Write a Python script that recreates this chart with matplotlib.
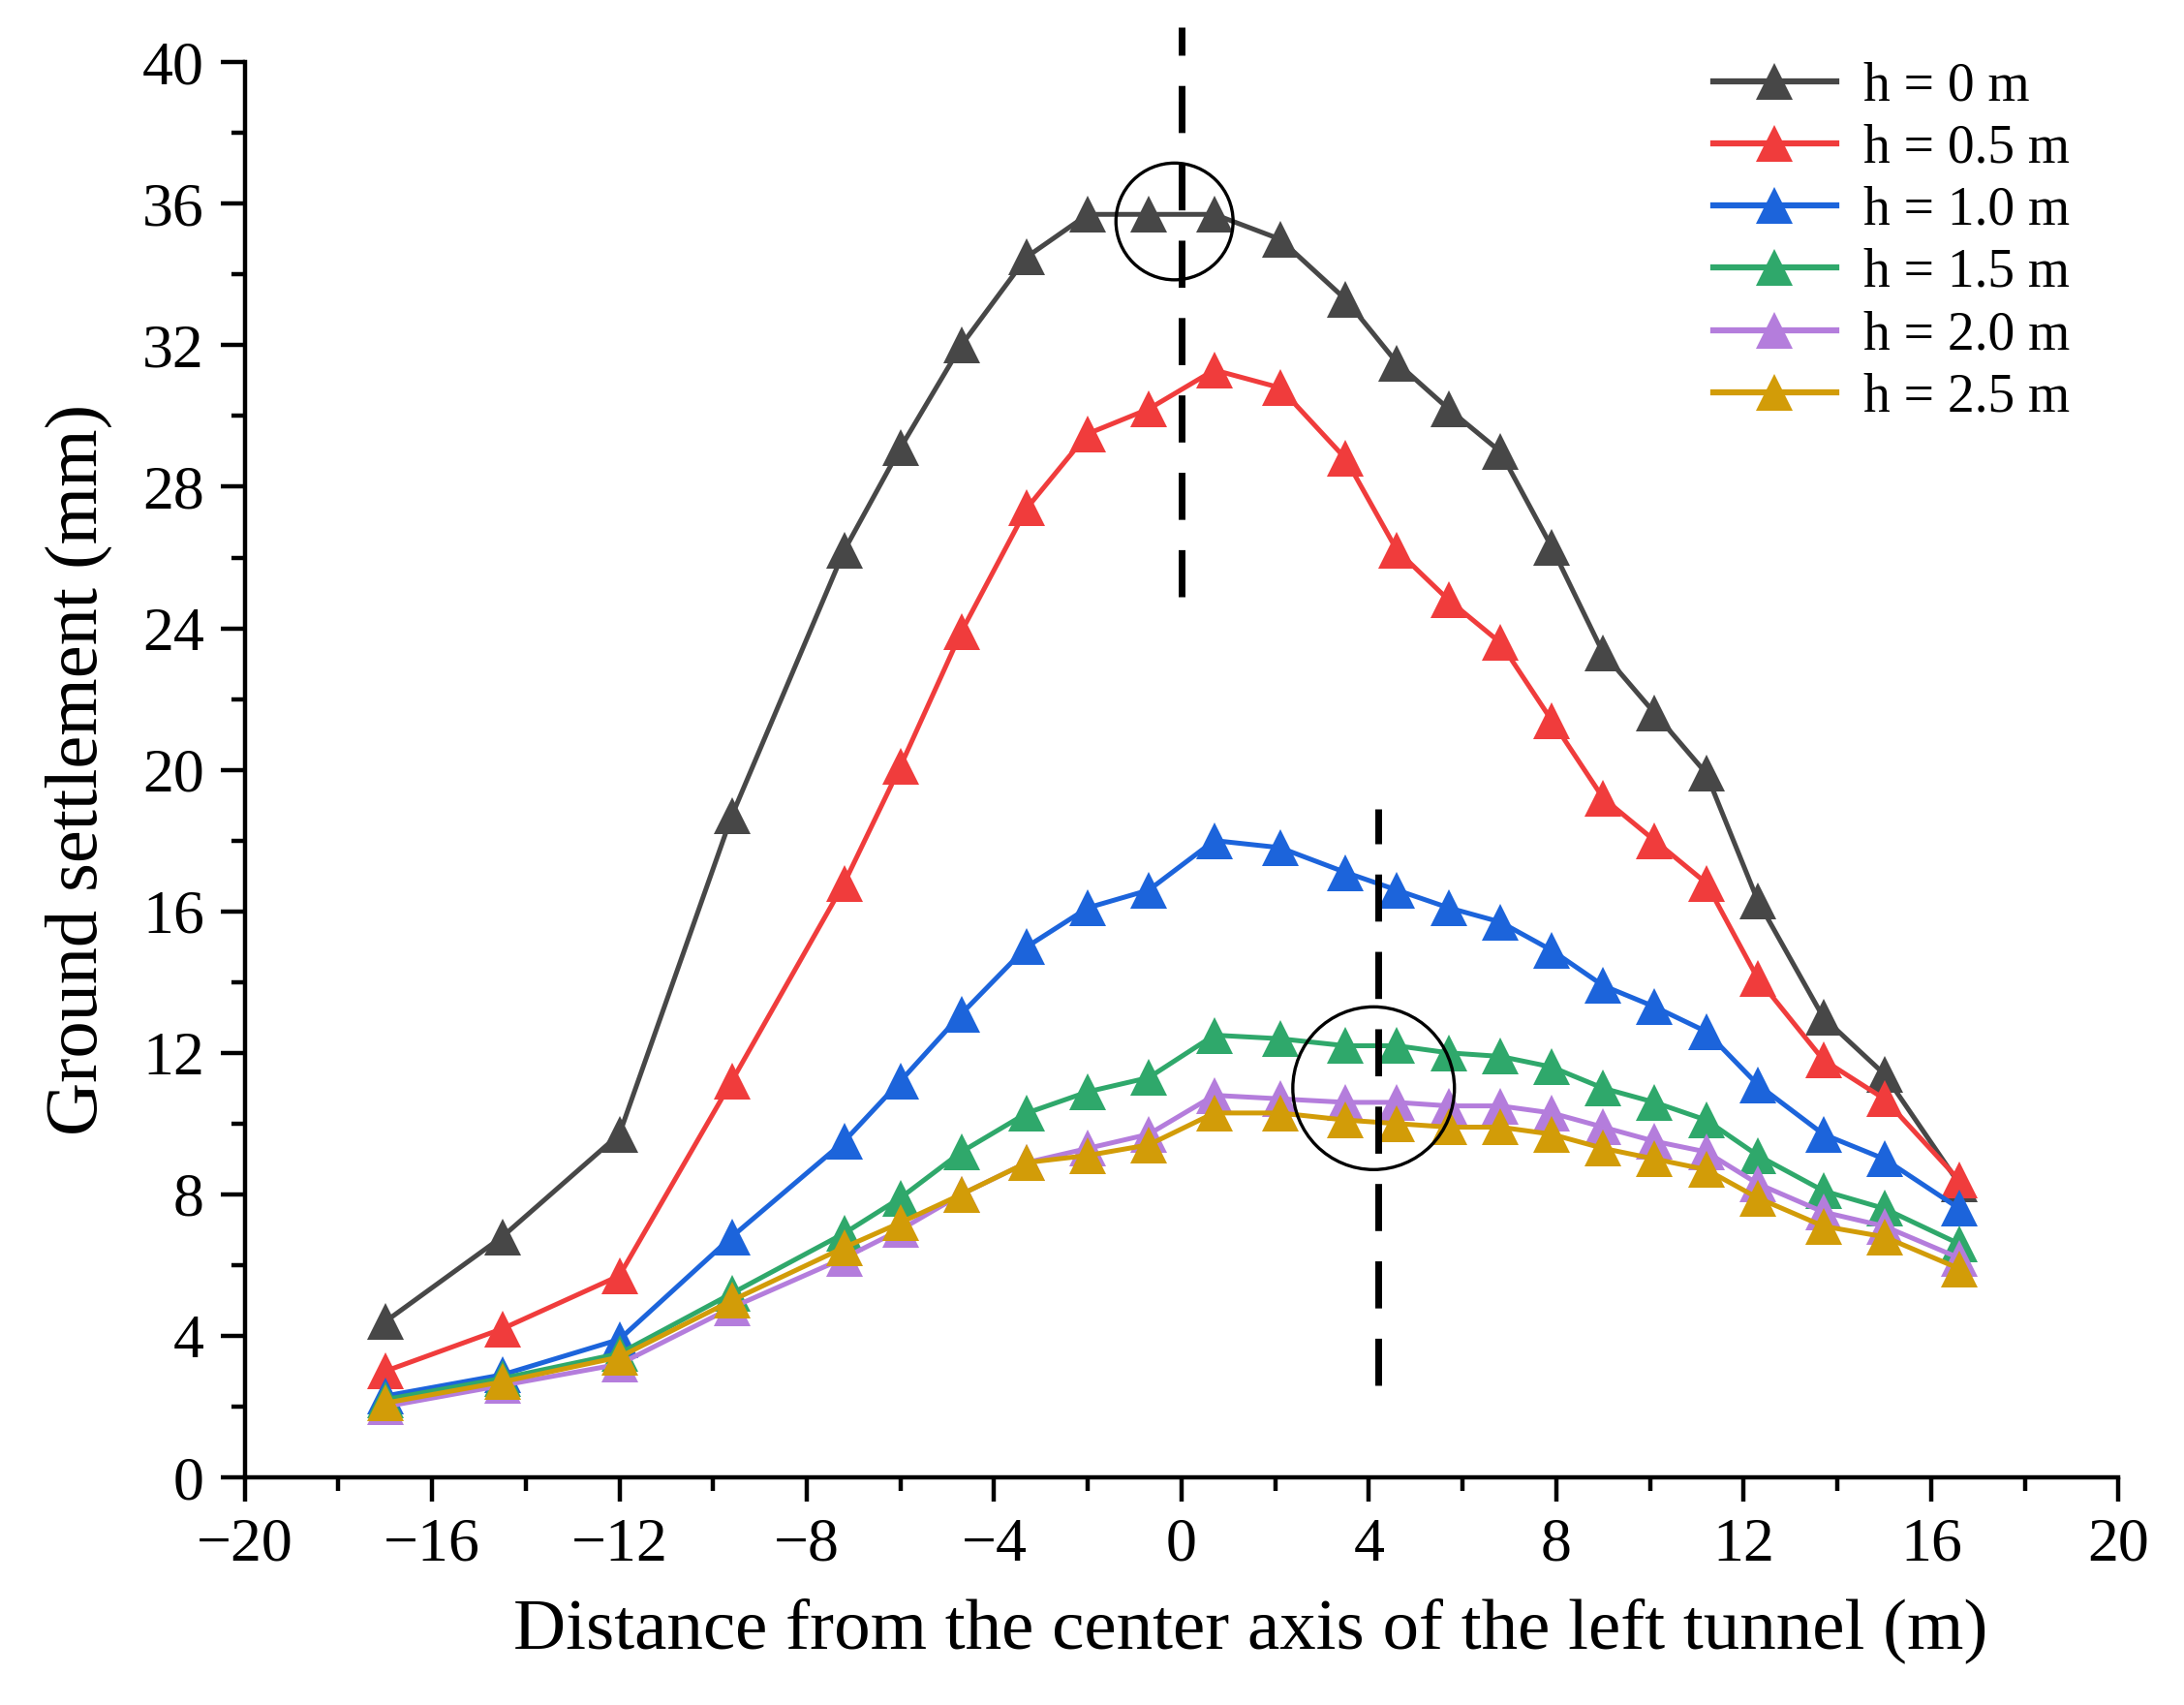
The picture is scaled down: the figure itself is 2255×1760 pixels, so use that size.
"""
Ground settlement vs. distance from the left tunnel axis, for several h.
"""

import matplotlib
matplotlib.use('Agg')
import matplotlib.pyplot as plt
from matplotlib.patches import Ellipse
from matplotlib.ticker import MultipleLocator

plt.rcParams['font.family'] = ['Liberation Serif', 'DejaVu Serif']

# ── Data ──────────────────────────────────────────────────────────────────────
distance = [-17.0, -14.5, -12.0, -9.6, -7.2, -6.0, -4.7, -3.3, -2.0, -0.7, 0.7, 2.1,
            3.5, 4.6, 5.7, 6.8, 7.9, 9.0, 10.1, 11.2, 12.3, 13.7, 15.0, 16.6]

h_0   = [4.4, 6.8, 9.7, 18.7, 26.2, 29.1, 32.0, 34.5, 35.7, 35.7, 35.7, 35.0,
         33.3, 31.5, 30.2, 29.0, 26.3, 23.3, 21.6, 19.9, 16.3, 13.0, 11.4, 8.3]
h_0_5 = [3.0, 4.2, 5.7, 11.2, 16.8, 20.1, 23.9, 27.4, 29.5, 30.2, 31.3, 30.8,
         28.8, 26.2, 24.8, 23.6, 21.4, 19.2, 18.0, 16.8, 14.1, 11.8, 10.7, 8.4]
h_1_0 = [2.3, 2.9, 3.9, 6.8, 9.5, 11.2, 13.1, 15.0, 16.1, 16.6, 18.0, 17.8,
         17.1, 16.6, 16.1, 15.7, 14.9, 13.9, 13.3, 12.6, 11.1, 9.7, 9.0, 7.6]
h_1_5 = [2.2, 2.8, 3.5, 5.2, 6.9, 7.9, 9.2, 10.3, 10.9, 11.3, 12.5, 12.4,
         12.2, 12.2, 12.0, 11.9, 11.6, 11.0, 10.6, 10.1, 9.1, 8.1, 7.6, 6.6]
h_2_0 = [2.0, 2.6, 3.2, 4.8, 6.2, 7.0, 8.0, 8.9, 9.3, 9.7, 10.8, 10.7,
         10.6, 10.6, 10.5, 10.5, 10.3, 9.9, 9.5, 9.2, 8.3, 7.5, 7.1, 6.2]
h_2_5 = [2.1, 2.7, 3.4, 5.0, 6.5, 7.2, 8.0, 8.9, 9.1, 9.4, 10.3, 10.3,
         10.1, 10.0, 9.9, 9.9, 9.7, 9.3, 9.0, 8.7, 7.9, 7.1, 6.8, 5.9]

series = [h_0, h_0_5, h_1_0, h_1_5, h_2_0, h_2_5]
labels = ["h = 0 m", "h = 0.5 m", "h = 1.0 m", "h = 1.5 m", "h = 2.0 m", "h = 2.5 m"]
colors = ["#474747", "#f03c3c", "#1c64db", "#2fa86b", "#b47ddc", "#d29c08"]

# annotation guides: dashed axes and highlight circles
guide_x    = [0.0, 4.2]
guide_ylo  = [24.9, 2.6]
guide_yhi  = [41.0, 18.9]
circle_xy  = [(-0.15, 35.5), (4.1, 11.0)]
circle_wh  = [(2.5, 3.3), (3.45, 4.6)]

# ── Plot ──────────────────────────────────────────────────────────────────────
fig = plt.figure(figsize=(22.55, 17.6), dpi=100)
ax = fig.add_axes([0.112, 0.1335, 0.858, 0.83])

for y, lab, c in zip(series, labels, colors):
    ax.plot(distance, y, color=c, linewidth=3.6, marker='^', markersize=27,
            markeredgewidth=0, label=lab)

for gx, lo, hi in zip(guide_x, guide_ylo, guide_yhi):
    ax.plot([gx, gx], [lo, hi], color='black', linewidth=5, dashes=(7, 4.5),
            clip_on=False, zorder=5)

for (cx, cy), (w, h) in zip(circle_xy, circle_wh):
    ax.add_patch(Ellipse((cx, cy), w, h, fill=False, edgecolor='black',
                         linewidth=2.4, zorder=6))

ax.set_xlim(-20, 20)
ax.set_ylim(0, 40)
ax.xaxis.set_major_locator(MultipleLocator(4))
ax.xaxis.set_minor_locator(MultipleLocator(2))
ax.yaxis.set_major_locator(MultipleLocator(4))
ax.yaxis.set_minor_locator(MultipleLocator(2))

for s in ['top', 'right']:
    ax.spines[s].set_visible(False)
for s in ['left', 'bottom']:
    ax.spines[s].set_linewidth(3.2)

ax.tick_params(which='major', direction='out', length=18, width=3.2,
               labelsize=46, pad=12)
ax.tick_params(which='minor', direction='out', length=10, width=3.2)

ax.set_xlabel("Distance from the center axis of the left tunnel (m)", fontsize=54,
              labelpad=18, x=0.537)
ax.set_ylabel("Ground settlement (mm)", fontsize=55, labelpad=22)

leg = ax.legend(loc='upper right', bbox_to_anchor=(1.0, 1.035), frameon=False,
                fontsize=40, handlelength=2.3, handletextpad=0.5, labelspacing=0.22)
for line in leg.get_lines():
    line.set_linewidth(4.5)

plt.savefig("out.png", dpi=100)
plt.close()
